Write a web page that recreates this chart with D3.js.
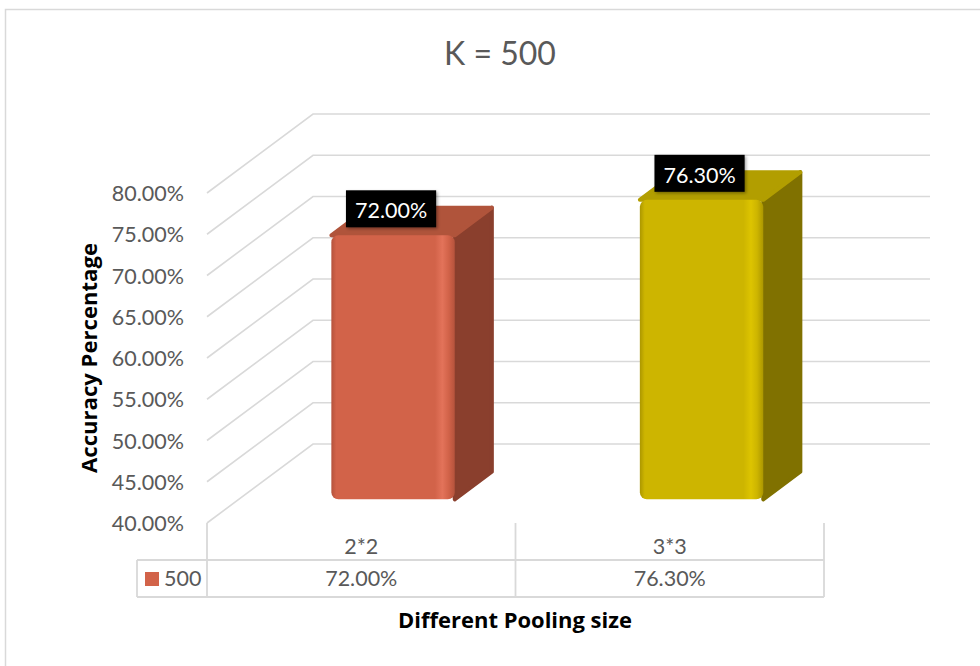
<!DOCTYPE html>
<html>
<head>
<meta charset="utf-8">
<script src="https://cdn.jsdelivr.net/npm/d3@7"></script>
<style>
  html, body { margin: 0; padding: 0; background: #fff; }
  svg { display: block; font-family: Lato, "Open Sans", sans-serif; }
</style>
</head>
<body>
<svg id="chart" width="980" height="666"></svg>
<script>
// ---- data ----
const categories = ["2*2", "3*3"];
const values = [72.00, 76.30];
const seriesName = "500";
const tickValues = [40, 45, 50, 55, 60, 65, 70, 75, 80];
const titleText = "K = 500";
const yTitle = "Accuracy Percentage";
const xTitle = "Different Pooling size";

// ---- styling ----
const barStyles = [
  { front: "#D26349", light: "#E3735A", dark: "#B5533C", top: "#B0543B", side: "#8A3F2D" },
  { front: "#CDB500", light: "#DDC400", dark: "#AC9700", top: "#B29E00", side: "#807100" }
];
const gridColor = "#d9d9d9";
const textColor = "#595959";

const svg = d3.select("#chart");
const defs = svg.append("defs");

// shrink/grow a text's font size so it spans the given width
function fitWidth(sel, width) {
  const fs = parseFloat(sel.attr("font-size"));
  const w = sel.node().getComputedTextLength();
  if (w > 0) sel.attr("font-size", (fs * width / w).toFixed(2));
}

// chart area border
svg.append("rect")
  .attr("x", 5.5).attr("y", 9.5)
  .attr("width", 1000).attr("height", 700)
  .attr("fill", "none").attr("stroke", gridColor).attr("stroke-width", 1.5);

// ---- 3D projection: back wall plane and depth offset ----
const y = d3.scaleLinear().domain([40, 80]).range([444, 114]);
const x = d3.scaleBand().domain(categories).range([313, 930]).paddingInner(0).paddingOuter(0);
const depth = { dx: -106, dy: 79 };           // back wall (t=0) -> front edge (t=1)
const P = (xb, v, t) => [xb + depth.dx * t, y(v) + depth.dy * t];

// ---- title ----
svg.append("text")
  .attr("x", 500).attr("y", 65)
  .attr("text-anchor", "middle")
  .attr("font-size", 32)
  .attr("fill", textColor)
  .text(titleText);

// ---- gridlines: side wall diagonals + back wall ----
const grid = svg.append("g").attr("stroke", gridColor).attr("stroke-width", 1.6).attr("fill", "none");
tickValues.forEach(v => {
  const f = P(x.range()[0], v, 1), b = P(x.range()[0], v, 0), r = P(x.range()[1], v, 0);
  grid.append("path").attr("d", `M${f[0]},${f[1]}L${b[0]},${b[1]}L${r[0]},${r[1]}`);
});

// ---- tick labels ----
const fmt = d => d3.format(".2f")(d) + "%";
svg.append("g").selectAll("text")
  .data(tickValues).join("text")
  .attr("x", 184)
  .attr("y", d => P(0, d, 1)[1] + 8)
  .attr("text-anchor", "end")
  .attr("font-size", 21.5)
  .attr("fill", textColor)
  .text(fmt);

// ---- axis titles ----
const yt = svg.append("text")
  .attr("transform", "translate(97,358) rotate(-90)")
  .attr("text-anchor", "middle")
  .attr("font-family", "'Open Sans', sans-serif")
  .attr("font-size", 19)
  .attr("font-weight", "bold")
  .attr("fill", "#000")
  .text(yTitle);
fitWidth(yt, 230);

const xt = svg.append("text")
  .attr("x", 515).attr("y", 628)
  .attr("text-anchor", "middle")
  .attr("font-family", "'Open Sans', sans-serif")
  .attr("font-size", 19)
  .attr("font-weight", "bold")
  .attr("fill", "#000")
  .text(xTitle);
fitWidth(xt, 234);

// ---- bars ----
const tFront = 0.7, tBack = 0.35;
const barFrac = 0.4;
const bars = svg.append("g");
const labelFilter = defs.append("filter").attr("id", "lblShadow")
  .attr("x", "-20%").attr("y", "-20%").attr("width", "140%").attr("height", "160%");
labelFilter.append("feDropShadow").attr("dx", 1.5).attr("dy", 1.5)
  .attr("stdDeviation", 1.5).attr("flood-color", "#000").attr("flood-opacity", 0.35);

categories.forEach((c, i) => {
  const v = values[i];
  const st = barStyles[i];
  const cx = x(c) + x.bandwidth() / 2;
  const hw = x.bandwidth() * barFrac / 2;
  const xl = cx - hw, xr = cx + hw;

  const gid = "frontGrad" + i;
  const g = defs.append("linearGradient").attr("id", gid).attr("x1", 0).attr("x2", 1).attr("y1", 0).attr("y2", 0);
  [[0, st.dark], [0.04, st.front], [0.84, st.front], [0.9, st.light], [0.95, st.front], [1, st.dark]]
    .forEach(([o, col]) => g.append("stop").attr("offset", o).attr("stop-color", col));

  const ftl = P(xl, v, tFront), fbr = P(xr, 40, tFront);
  const btl = P(xl, v, tBack), btr = P(xr, v, tBack), bbr = P(xr, 40, tBack);
  const ftr = P(xr, v, tFront);

  // side face
  bars.append("path")
    .attr("d", `M${ftr[0]},${ftr[1]}L${btr[0]},${btr[1]}L${bbr[0]},${bbr[1]}L${fbr[0]},${fbr[1]}Z`)
    .attr("fill", st.side).attr("stroke", st.side).attr("stroke-width", 4).attr("stroke-linejoin", "round");
  // top face
  bars.append("path")
    .attr("d", `M${ftl[0]},${ftl[1]}L${btl[0]},${btl[1]}L${btr[0]},${btr[1]}L${ftr[0]},${ftr[1]}Z`)
    .attr("fill", st.top).attr("stroke", st.top).attr("stroke-width", 4).attr("stroke-linejoin", "round");
  // front face
  bars.append("rect")
    .attr("x", ftl[0]).attr("y", ftl[1])
    .attr("width", fbr[0] - ftl[0]).attr("height", fbr[1] - ftl[1])
    .attr("rx", 7).attr("ry", 7)
    .attr("fill", `url(#${gid})`);

  // data label
  const fcx = (ftl[0] + fbr[0]) / 2 - 2;
  const lbl = bars.append("g");
  const txt = lbl.append("text")
    .attr("x", fcx).attr("y", ftl[1] - 17)
    .attr("text-anchor", "middle")
    .attr("font-size", 21.5)
    .attr("fill", "#fff")
    .text(fmt(v));
  const w = txt.node().getComputedTextLength() + 18;
  lbl.insert("rect", "text")
    .attr("x", fcx - w / 2).attr("y", ftl[1] - 45)
    .attr("width", w).attr("height", 37)
    .attr("fill", "#000")
    .attr("filter", "url(#lblShadow)");
});

// ---- data table ----
const table = svg.append("g").attr("stroke", gridColor).attr("stroke-width", 1.8).attr("fill", "none");
const yTop = P(0, 40, 1)[1], yMid = 560, yBot = 597;
const colEdges = [x.range()[0], ...categories.map(c => x(c) + x.bandwidth())].map(xb => P(xb, 40, 1)[0]);
colEdges.forEach(cx => table.append("line").attr("x1", cx).attr("x2", cx).attr("y1", yTop).attr("y2", yBot));
table.append("line").attr("x1", 137).attr("x2", colEdges[colEdges.length - 1]).attr("y1", yMid).attr("y2", yMid);
table.append("line").attr("x1", 137).attr("x2", colEdges[colEdges.length - 1]).attr("y1", yBot).attr("y2", yBot);
table.append("line").attr("x1", 137).attr("x2", 137).attr("y1", yMid).attr("y2", yBot);

const tbl = svg.append("g").attr("font-size", 21.5).attr("fill", textColor).attr("text-anchor", "middle");
categories.forEach((c, i) => {
  const mid = (colEdges[i] + colEdges[i + 1]) / 2;
  tbl.append("text").attr("x", mid).attr("y", 554).text(c);
  tbl.append("text").attr("x", mid).attr("y", 586).text(fmt(values[i]));
});

// legend key in table
svg.append("rect").attr("x", 145).attr("y", 572).attr("width", 14).attr("height", 14).attr("fill", barStyles[0].front);
svg.append("text").attr("x", 164).attr("y", 586).attr("font-size", 21.5).attr("fill", textColor).text(seriesName);
</script>
</body>
</html>
